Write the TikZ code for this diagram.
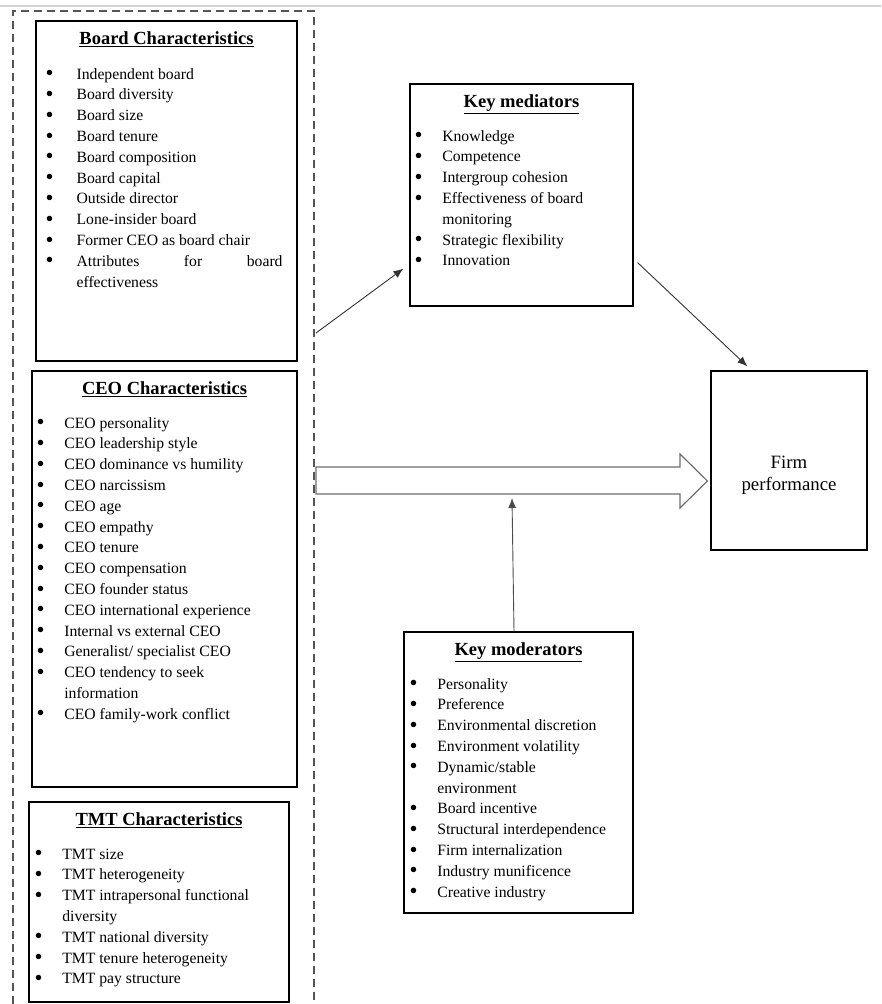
\documentclass[tikz,border=0pt]{standalone}
\usepackage{fontspec}
\setmainfont{Liberation Serif}
\usetikzlibrary{calc,arrows.meta,positioning}
\definecolor{rulegray}{RGB}{207,211,215}
\definecolor{dashgray}{RGB}{85,85,85}
\definecolor{flowgray}{RGB}{110,110,110}
\newcommand{\bdot}{\raisebox{-1.6pt}{\scalebox{1.45}{\textbullet}}}
\newcommand{\bitem}[2][27.7pt]{\makebox[#1][l]{\bdot}#2\strut}
\newcommand{\bmore}[2][27.7pt]{\hspace*{#1}#2\strut}

\begin{document}
\begin{tikzpicture}[x=1pt,y=-1pt,
    box/.style={draw=black, line width=1.2pt, inner sep=0pt},
    boxtitle/.style={font=\fontsize{18.5}{22}\selectfont\bfseries, inner sep=0pt, anchor=base},
    boxlist/.style={font=\fontsize{15.7}{20.8}\selectfont, align=left, inner sep=0pt, anchor=north west},
    conn/.style={draw=black!80, line width=0.9pt, -{Latex[length=10pt,width=8pt]}}]

    \useasboundingbox (0,0) rectangle (881,1004);
    \draw[rulegray, line width=2.5pt] (0,6) -- (881,6);

    % group of characteristics
    \draw[dashgray, line width=1.3pt, dash pattern=on 8pt off 5pt] (13,1004) -- (13,11) -- (314,11) -- (314,1004);

    \node[box, minimum width=261pt, minimum height=340pt] (board) at (166.5,191) {};
    \node[boxtitle] (boardT) at ($(board.north)+(0,24)$) {\underline{Board Characteristics}};
    \node[boxlist] (boardL) at ($(board.north west)+(10,44)$) {%
        \bitem[31pt]{Independent board}\\
        \bitem[31pt]{Board diversity}\\
        \bitem[31pt]{Board size}\\
        \bitem[31pt]{Board tenure}\\
        \bitem[31pt]{Board composition}\\
        \bitem[31pt]{Board capital}\\
        \bitem[31pt]{Outside director}\\
        \bitem[31pt]{Lone-insider board}\\
        \bitem[31pt]{Former CEO as board chair}\\
        \bitem[31pt]{\makebox[206pt][s]{Attributes for board}}\\
        \bmore[31pt]{effectiveness}};

    \node[box, minimum width=265pt, minimum height=416pt] (ceo) at (164.5,579) {};
    \node[boxtitle] (ceoT) at ($(ceo.north)+(0,24)$) {\underline{CEO Characteristics}};
    \node[boxlist] (ceoL) at ($(ceo.north west)+(5,43)$) {%
        \bitem{CEO personality}\\
        \bitem{CEO leadership style}\\
        \bitem{CEO dominance vs humility}\\
        \bitem{CEO narcissism}\\
        \bitem{CEO age}\\
        \bitem{CEO empathy}\\
        \bitem{CEO tenure}\\
        \bitem{CEO compensation}\\
        \bitem{CEO founder status}\\
        \bitem{CEO international experience}\\
        \bitem{Internal vs external CEO}\\
        \bitem{Generalist/ specialist CEO}\\
        \bitem{CEO tendency to seek}\\
        \bmore{information}\\
        \bitem{CEO family-work conflict}};

    \node[box, minimum width=260pt, minimum height=200pt] (tmt) at (159,902) {};
    \node[boxtitle] (tmtT) at ($(tmt.north)+(0,24)$) {\underline{TMT Characteristics}};
    \node[boxlist] (tmtL) at ($(tmt.north west)+(6,43)$) {%
        \bitem{TMT size}\\
        \bitem{TMT heterogeneity}\\
        \bitem{TMT intrapersonal functional}\\
        \bmore{diversity}\\
        \bitem{TMT national diversity}\\
        \bitem{TMT tenure heterogeneity}\\
        \bitem{TMT pay structure}};

    % mediators, moderators, outcome
    \node[box, minimum width=223pt, minimum height=222pt] (med) at (521.5,195) {};
    \node[boxtitle] (medT) at ($(med.north)+(0,24)$) {\underline{Key mediators}};
    \node[boxlist] (medL) at ($(med.north west)+(5,43)$) {%
        \bitem{Knowledge}\\
        \bitem{Competence}\\
        \bitem{Intergroup cohesion}\\
        \bitem{Effectiveness of board}\\
        \bmore{monitoring}\\
        \bitem{Strategic flexibility}\\
        \bitem{Innovation}};

    \node[box, minimum width=229pt, minimum height=281pt] (mod) at (518.5,772.5) {};
    \node[boxtitle] (modT) at ($(mod.north)+(0,24)$) {\underline{Key moderators}};
    \node[boxlist] (modL) at ($(mod.north west)+(6,43)$) {%
        \bitem{Personality}\\
        \bitem{Preference}\\
        \bitem{Environmental discretion}\\
        \bitem{Environment volatility}\\
        \bitem{Dynamic/stable}\\
        \bmore{environment}\\
        \bitem{Board incentive}\\
        \bitem{Structural interdependence}\\
        \bitem{Firm internalization}\\
        \bitem{Industry munificence}\\
        \bitem{Creative industry}};

    \node[box, minimum width=156pt, minimum height=179pt] (firm) at (789,460.5) {};
    \node[align=center, inner sep=0pt, font=\fontsize{18.8}{22}\selectfont] (firmT) at ($(firm.center)+(0,14.5)$) {Firm\\performance};

    % direct effect
    \draw[flowgray, line width=1.2pt, fill=white] (316,467) -- (680,467) -- (680,454) -- ($(firm.west)+(-3,20.5)$)
        -- (680,508) -- (680,494) -- (316,494) -- cycle;
    \coordinate (flowB) at (512,494);

    \draw[conn] (316,333) -- ($(med.south west)+(-6,-38)$);
    \draw[conn] ($(med.south east)+(4,-44)$) -- ($(firm.north west)+(37,-4)$);
    \draw[conn, draw=black!70] ($(mod.north)+(-4.5,0)$) -- ($(flowB)+(0,4)$);
\end{tikzpicture}
\end{document}
